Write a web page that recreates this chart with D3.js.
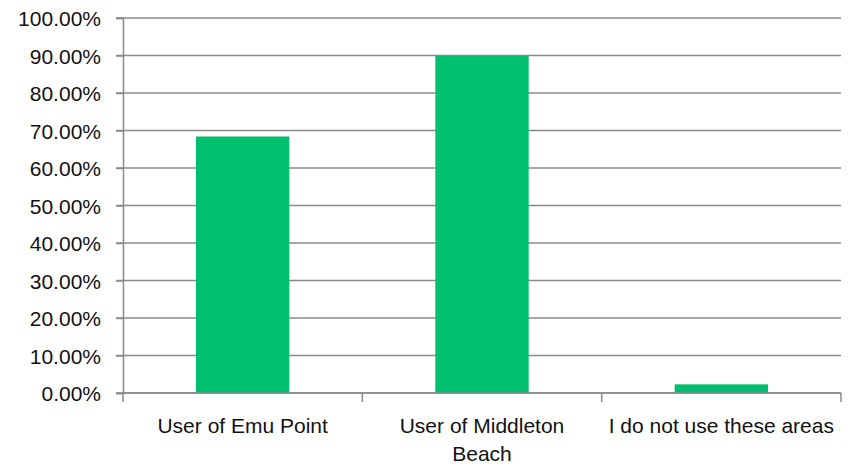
<!DOCTYPE html>
<html>
<head>
<meta charset="utf-8">
<script src="https://cdn.jsdelivr.net/npm/d3@7"></script>
<style>
  body { margin: 0; background: #fff; }
  text { font-family: "Liberation Sans", Arial, sans-serif; fill: #111; }
</style>
</head>
<body>
<div id="chart"></div>
<script>
// data
let categories = ["User of Emu Point", "User of Middleton Beach", "I do not use these areas"]
let labelLines = [["User of Emu Point"], ["User of Middleton", "Beach"], ["I do not use these areas"]]
let values = [0.684, 0.899, 0.023]
let tickValues = [0, 0.1, 0.2, 0.3, 0.4, 0.5, 0.6, 0.7, 0.8, 0.9, 1.0]

const width = 850, height = 466
const plotLeft = 123, plotRight = 841, plotTop = 18, plotBottom = 393
const gridColor = "#8a8a8a"
const barColor = "#00bf6f"
const fontSize = 21

const svg = d3.select("#chart").append("svg")
    .attr("width", width)
    .attr("height", height)

const x = d3.scaleBand().domain(categories).range([plotLeft, plotRight]).padding(0)
const y = d3.scaleLinear().domain([0, 1]).range([plotBottom, plotTop])

// gridlines
svg.append("g")
    .selectAll("line")
    .data(tickValues)
    .join("line")
    .attr("x1", plotLeft - 7)
    .attr("x2", plotRight)
    .attr("y1", d => y(d))
    .attr("y2", d => y(d))
    .attr("stroke", gridColor)
    .attr("stroke-width", 1.5)

// y axis
const yAxis = svg.append("g")
    .attr("transform", `translate(${plotLeft},0)`)
    .call(d3.axisLeft(y).tickValues(tickValues).tickSize(7).tickPadding(15)
        .tickFormat(d => (d * 100).toFixed(2) + "%"))
yAxis.select(".domain").attr("stroke", gridColor).attr("stroke-width", 1.5)
yAxis.selectAll(".tick line").attr("stroke", gridColor).attr("stroke-width", 1.5)
yAxis.selectAll("text")
    .attr("font-size", fontSize)
    .attr("font-family", "Liberation Sans, Arial, sans-serif")
    .attr("fill", "#111")
    .attr("dy", "0.36em")

// bars
const barWidth = x.bandwidth() * 0.39
svg.append("g")
    .selectAll("rect")
    .data(values)
    .join("rect")
    .attr("x", (d, i) => x(categories[i]) + x.bandwidth() / 2 - barWidth / 2)
    .attr("y", d => y(d))
    .attr("width", barWidth)
    .attr("height", d => y(0) - y(d))
    .attr("fill", barColor)

// x axis line and boundary ticks
const xg = svg.append("g")
xg.append("line")
    .attr("x1", plotLeft).attr("x2", plotRight)
    .attr("y1", plotBottom).attr("y2", plotBottom)
    .attr("stroke", gridColor).attr("stroke-width", 1.5)
let bounds = categories.map(c => x(c)).concat([plotRight])
xg.selectAll(".xt")
    .data(bounds)
    .join("line")
    .attr("class", "xt")
    .attr("x1", d => d).attr("x2", d => d)
    .attr("y1", plotBottom).attr("y2", plotBottom + 9)
    .attr("stroke", gridColor).attr("stroke-width", 1.5)

// category labels
xg.selectAll(".xl")
    .data(categories)
    .join("text")
    .attr("class", "xl")
    .attr("text-anchor", "middle")
    .attr("font-size", fontSize)
    .attr("y", 433)
    .each(function (d, i) {
        d3.select(this).selectAll("tspan")
            .data(labelLines[i])
            .join("tspan")
            .attr("x", x(d) + x.bandwidth() / 2)
            .attr("dy", (t, j) => j == 0 ? 0 : 28)
            .text(t => t)
    })
</script>
</body>
</html>
